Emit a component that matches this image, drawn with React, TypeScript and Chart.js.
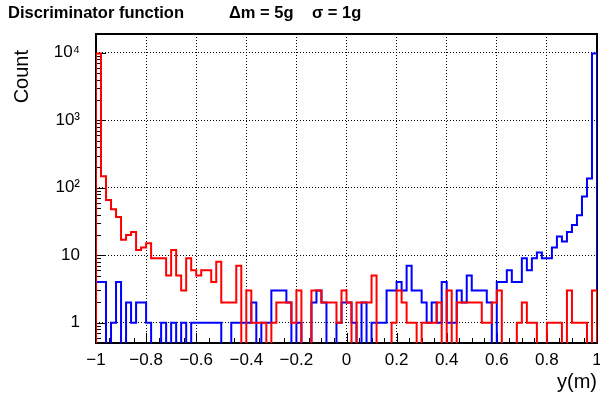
import React, { useEffect, useRef } from 'react';
import { Chart, registerables } from 'chart.js';

Chart.register(...registerables);

// ---- data ----
const X_MIN = -1;
const X_MAX = 1;
const Y_MIN = 0.5;
const Y_MAX = 1.9e4;

const redCounts = [
  9800, 148, 66, 48, 37, 17, 20, 22, 12, 13,
  15, 9, 9, 9, 5, 12, 5, 3, 9, 6,
  5, 6, 6, 4, 8, 2, 2, 2, 7, 0,
  3, 1, 1, 1, 0, 1, 2, 2, 2, 1,
  3, 0, 0, 3, 3, 2, 2, 2, 1, 3,
  2, 0, 2, 2, 2, 5, 0, 0, 0, 1,
  3, 2, 1, 1, 0, 1, 1, 1, 2, 0,
  3, 0, 2, 2, 2, 2, 2, 1, 1, 2,
  3, 0, 0, 0, 1, 2, 1, 1, 0, 0,
  1, 1, 1, 0, 3, 1, 1, 1, 0, 3,
];

const blueCounts = [
  4, 4, 0, 1, 4, 0, 2, 1, 2, 2,
  1, 0, 0, 1, 0, 1, 0, 1, 0, 1,
  1, 1, 1, 1, 1, 0, 0, 1, 1, 1,
  1, 2, 0, 1, 1, 3, 3, 3, 2, 0,
  1, 0, 0, 2, 3, 2, 0, 0, 1, 2,
  2, 1, 0, 2, 0, 1, 1, 1, 3, 3,
  4, 3, 7, 3, 3, 2, 1, 2, 1, 4,
  1, 1, 3, 2, 5, 3, 3, 3, 2, 0,
  4, 4, 6, 4, 4, 9, 6, 9, 11, 9,
  9, 13, 19, 16, 22, 28, 39, 74, 137, 9800,
];

const xTickValues = [-1, -0.8, -0.6, -0.4, -0.2, 0, 0.2, 0.4, 0.6, 0.8, 1];
const xTickLabels = ['\u22121', '\u22120.8', '\u22120.6', '\u22120.4', '\u22120.2', '0', '0.2', '0.4', '0.6', '0.8', '1'];
const yTickValues = [1, 10, 100, 1000, 10000];
const yTickLabels = ['1', '10', '10\u00B2', '10\u00B3', '10\u2074'];

const TITLE = 'Discriminator function';
const SUBTITLE_A = '\u0394m = 5g';
const SUBTITLE_B = '\u03C3 = 1g';
const Y_TITLE = 'Count';
const X_TITLE = 'y(m)';

const FONT = "'Liberation Sans', Arial, Helvetica, sans-serif";
const ZERO_FLOOR = 0.05;

function histPoints(counts: number[]) {
  const w = (X_MAX - X_MIN) / counts.length;
  const v = (c: number) => (c > 0 ? c : ZERO_FLOOR);
  const pts: { x: number; y: number }[] = [{ x: X_MIN, y: ZERO_FLOOR }];
  counts.forEach((c, i) => pts.push({ x: X_MIN + i * w, y: v(c) }));
  pts.push({ x: X_MAX, y: v(counts[counts.length - 1]) });
  pts.push({ x: X_MAX, y: ZERO_FLOOR });
  return pts;
}

const decorPlugin = {
  id: 'rootDecor',
  beforeDatasetsDraw(chart: any) {
    const { ctx, chartArea } = chart;
    const { left, right, top, bottom } = chartArea;
    const xs = chart.scales.x;
    const ys = chart.scales.y;
    ctx.save();
    ctx.strokeStyle = '#000';
    ctx.lineWidth = 1;
    ctx.setLineDash([]);
    ctx.beginPath();
    for (let e = -1; e <= 4; e++) {
      for (let m = 1; m <= 9; m++) {
        const val = m * Math.pow(10, e);
        if (val < Y_MIN || val > Y_MAX) continue;
        const py = Math.round(ys.getPixelForValue(val)) + 0.5;
        const len = m === 1 ? 10 : 5;
        ctx.moveTo(left, py);
        ctx.lineTo(left + len, py);
      }
    }
    for (let j = 0; j <= 40; j++) {
      const val = X_MIN + j * 0.05;
      const px = Math.round(xs.getPixelForValue(val)) + 0.5;
      const len = j % 4 === 0 ? 10 : 5;
      ctx.moveTo(px, bottom);
      ctx.lineTo(px, bottom - len);
    }
    ctx.stroke();
    ctx.lineWidth = 2;
    ctx.strokeRect(left, top, right - left, bottom - top);
    ctx.restore();
  },
  afterDraw(chart: any) {
    const { ctx } = chart;
    ctx.save();
    ctx.fillStyle = '#000';
    ctx.textBaseline = 'alphabetic';
    ctx.textAlign = 'left';
    ctx.font = `bold 16.5px ${FONT}`;
    ctx.fillText(TITLE, 8, 18);
    ctx.fillText(SUBTITLE_A, 229, 18);
    ctx.fillText(SUBTITLE_B, 312, 18);
    ctx.font = `20px ${FONT}`;
    ctx.textAlign = 'right';
    ctx.fillText(X_TITLE, 597, 388);
    ctx.translate(28, 50);
    ctx.rotate(-Math.PI / 2);
    ctx.font = `20px ${FONT}`;
    ctx.textAlign = 'right';
    ctx.fillText(Y_TITLE, 0, 0);
    ctx.restore();
  },
};

export default function App() {
  const ref = useRef<HTMLCanvasElement | null>(null);
  useEffect(() => {
    if (!ref.current) return;
    const chart = new Chart(ref.current, {
      type: 'line',
      data: {
        datasets: [
          {
            label: 'red',
            data: histPoints(redCounts),
            borderColor: '#ff0000',
            borderWidth: 2,
            pointRadius: 0,
            stepped: true,
            fill: false,
          },
          {
            label: 'blue',
            data: histPoints(blueCounts),
            borderColor: '#0000ff',
            borderWidth: 2,
            pointRadius: 0,
            stepped: true,
            fill: false,
          },
        ],
      },
      options: {
        responsive: false,
        animation: false,
        layout: { padding: { left: 0, right: 3, top: 34, bottom: 0 } },
        plugins: {
          legend: { display: false },
          tooltip: { enabled: false },
          title: { display: false },
        },
        scales: {
          x: {
            type: 'linear',
            min: X_MIN,
            max: X_MAX,
            afterBuildTicks: (s: any) => {
              s.ticks = xTickValues.map((v) => ({ value: v }));
            },
            afterFit: (s: any) => {
              s.height = 51;
              s.paddingLeft = 0;
              s.paddingRight = 0;
            },
            ticks: {
              autoSkip: false,
              maxRotation: 0,
              padding: 7,
              color: '#000',
              font: { family: FONT, size: 17 },
              callback: (_v: any, i: number) => xTickLabels[i],
            },
            grid: { color: '#000', lineWidth: 1, drawTicks: false },
            border: { display: false, dash: [1, 2] },
          },
          y: {
            type: 'logarithmic',
            min: Y_MIN,
            max: Y_MAX,
            afterBuildTicks: (s: any) => {
              s.ticks = yTickValues.map((v) => ({ value: v, major: true }));
            },
            afterFit: (s: any) => {
              s.width = 96;
              s.paddingTop = 0;
              s.paddingBottom = 0;
            },
            ticks: {
              autoSkip: false,
              padding: 16,
              color: '#000',
              font: { family: FONT, size: 17 },
              callback: (_v: any, i: number) => yTickLabels[i],
            },
            grid: { color: '#000', lineWidth: 1, drawTicks: false },
            border: { display: false, dash: [1, 2] },
          },
        },
      },
      plugins: [decorPlugin],
    } as any);
    return () => chart.destroy();
  }, []);
  return (
    <div style={{ position: 'absolute', left: 0, top: 0, width: 600, height: 394, background: '#fff' }}>
      <canvas ref={ref} width={600} height={394} style={{ display: 'block' }} />
    </div>
  );
}
